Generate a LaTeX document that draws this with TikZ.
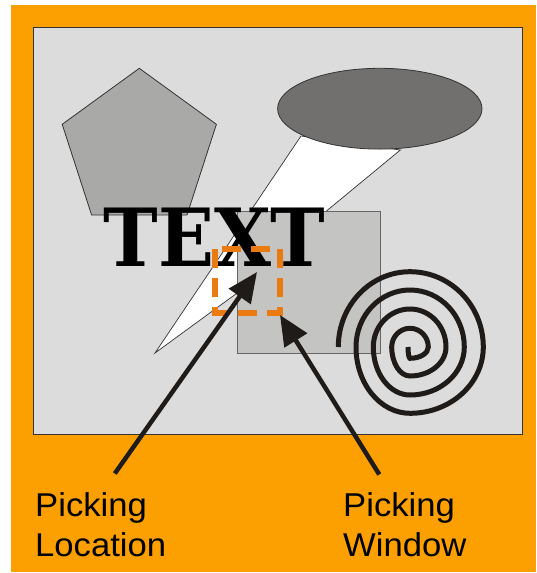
\documentclass[tikz,border=0pt]{standalone}
\usepackage{fontspec}
\usepackage{graphicx}
\usetikzlibrary{arrows.meta}
\newfontfamily\labfont{Liberation Sans}[FakeStretch=1.05]
\newfontfamily\serfont{DejaVu Serif}
\definecolor{bgorange}{RGB}{251,160,0}
\definecolor{panel}{RGB}{220,220,220}
\definecolor{pent}{RGB}{169,169,168}
\definecolor{ell}{RGB}{113,112,110}
\definecolor{sq}{RGB}{196,196,195}
\definecolor{dashor}{RGB}{233,123,18}
\definecolor{ink}{RGB}{30,27,24}
\definecolor{edge}{RGB}{51,51,51}
\begin{document}
\begin{tikzpicture}[x=1pt,y=-1pt,
  shapeline/.style={draw=edge,line width=0.8pt},
  arr/.style={draw=ink,line width=4.5pt,-{Triangle[length=30pt,width=26pt]}},
  lbl/.style={font=\labfont\fontsize{33}{40}\selectfont,align=left,inner sep=0pt,anchor=north west},
  spiralline/.style={draw=ink,line width=5pt},
  pickwin/.style={draw=dashor,line width=6pt,dash pattern=on 19pt off 10pt}]
\useasboundingbox (0,0) rectangle (536,573);
\fill[white] (0,0) rectangle (536,573);
\fill[bgorange] (11.3,5) rectangle (536,571.7);
% panel
\draw[shapeline,fill=panel] (33.3,27.3) rectangle (522.7,434);
% pentagon
\draw[shapeline,fill=pent] (139.3,68.3) -- (216.4,124.3) -- (187,215) -- (91.6,215) -- (62.2,124.3) -- cycle;
% white beam
\draw[shapeline,fill=white,line width=0.7pt] (301,136) -- (155,353) -- (255,280) -- (318,218) -- (400.3,150) -- cycle;
% ellipse
\draw[shapeline,fill=ell] (379.8,108.7) ellipse[x radius=102.2,y radius=40.4];
% square
\draw[draw=black!60,line width=0.9pt,fill=sq] (237,211) rectangle (380.3,353);
% TEXT
\node[inner sep=0pt,anchor=base west] (txt) at (103.3,266.7) {\resizebox{222pt}{58.5pt}{\serfont\bfseries TEXT}};
% spiral
\draw[spiralline] (408,347)
  arc[start angle=180,end angle=90,x radius=2,y radius=11.3]
  arc[start angle=90,end angle=0,x radius=18.3,y radius=11.3]
  arc[start angle=0,end angle=-90,x radius=18.3,y radius=18.7]
  arc[start angle=-90,end angle=-180,x radius=18.3,y radius=18.7]
  arc[start angle=180,end angle=90,x radius=18.3,y radius=29]
  arc[start angle=90,end angle=0,x radius=36,y radius=29]
  arc[start angle=0,end angle=-90,x radius=36,y radius=38]
  arc[start angle=-90,end angle=-180,x radius=36.7,y radius=38]
  arc[start angle=180,end angle=90,x radius=36.7,y radius=48]
  arc[start angle=90,end angle=0,x radius=54.3,y radius=48]
  arc[start angle=0,end angle=-90,x radius=54.3,y radius=57]
  arc[start angle=-90,end angle=-180,x radius=54,y radius=57]
  arc[start angle=180,end angle=90,x radius=54,y radius=66.3]
  arc[start angle=90,end angle=0,x radius=73.3,y radius=66.3]
  arc[start angle=0,end angle=-90,x radius=73.3,y radius=75.3]
  arc[start angle=-90,end angle=-180,x radius=71.7,y radius=75.3];
% picking window
\draw[pickwin] (215,249) rectangle (280,313);
% labels
\node[lbl] (locl) at (35,492) {Picking\\Location};
\node[lbl] (winl) at (343,492) {Picking\\Window};
\coordinate (locstart) at (114.8,473.5);
\coordinate (loctip) at (257,272);
\coordinate (winstart) at (379.3,474.5);
\coordinate (wintip) at (280,315);
\draw[arr] (locstart) -- (loctip);
\draw[arr] (winstart) -- (wintip);
\end{tikzpicture}
\end{document}
